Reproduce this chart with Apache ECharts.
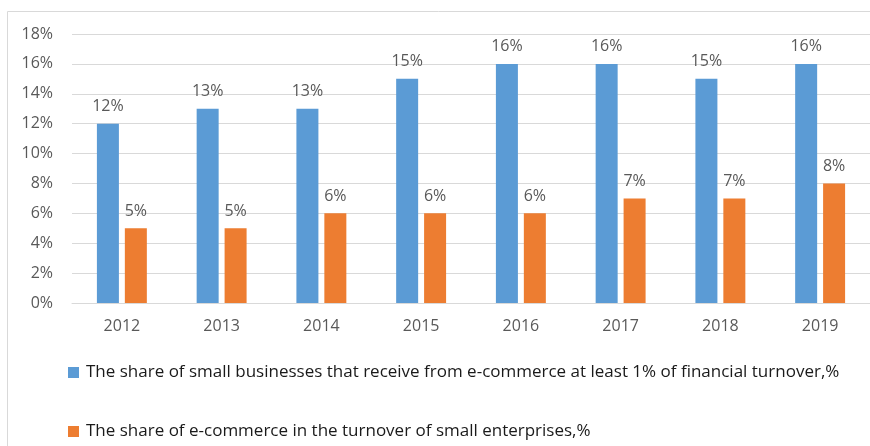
<!DOCTYPE html>
<html>
<head>
<meta charset="utf-8">
<script src="https://cdn.jsdelivr.net/npm/echarts@6/dist/echarts.min.js"></script>
<style>
  html, body { margin: 0; padding: 0; background: #fff; }
  #chart { width: 870px; height: 446px; }
</style>
</head>
<body>
<div id="chart"></div>
<script>
  var years = ['2012', '2013', '2014', '2015', '2016', '2017', '2018', '2019'];
  var shareBusinesses = [12, 13, 13, 15, 16, 16, 15, 16];
  var shareTurnover = [5, 5, 6, 6, 6, 7, 7, 8];
  var nameBusinesses = 'The share of small businesses that receive from e-commerce at least 1% of financial turnover,%';
  var nameTurnover = 'The share of e-commerce in the turnover of small enterprises,%';

  var font = 'Open Sans, Noto Sans, sans-serif';
  var chart = echarts.init(document.getElementById('chart'));

  var labelStyle = {
    show: true,
    position: 'top',
    distance: 9,
    formatter: '{c}%',
    color: '#595959',
    fontSize: 16,
    fontFamily: font
  };

  var legendText = { color: '#1a1a1a', fontSize: 17, fontFamily: font, padding: [0, 0, 0, 2] };

  chart.setOption({
    animation: false,
    graphic: [
      {
        type: 'polyline',
        shape: { points: [[7.5, 446], [7.5, 11.5], [870, 11.5]] },
        style: { stroke: '#d9d9d9', lineWidth: 1, fill: null },
        silent: true
      }
    ],
    grid: { left: 72, right: -1, top: 34, bottom: 143 },
    legend: [
      {
        data: [nameBusinesses],
        left: 63, top: 359,
        itemWidth: 11, itemHeight: 11,
        icon: 'rect',
        textStyle: legendText
      },
      {
        data: [nameTurnover],
        left: 63, top: 418,
        itemWidth: 11, itemHeight: 11,
        icon: 'rect',
        textStyle: legendText
      }
    ],
    xAxis: {
      type: 'category',
      data: years,
      axisLine: { show: true, lineStyle: { color: '#d9d9d9' } },
      axisTick: { show: false },
      axisLabel: { color: '#595959', fontSize: 16, fontFamily: font, margin: 15 }
    },
    yAxis: {
      type: 'value',
      min: 0, max: 18, interval: 2,
      axisLine: { show: false },
      axisTick: { show: false },
      axisLabel: { formatter: '{value}%', color: '#595959', fontSize: 16, fontFamily: font, margin: 19 },
      splitLine: { lineStyle: { color: '#d9d9d9', width: 1 } }
    },
    series: [
      {
        name: nameBusinesses,
        type: 'bar',
        data: shareBusinesses,
        barWidth: 22,
        barGap: '27%',
        itemStyle: { color: '#5b9bd5' },
        label: labelStyle
      },
      {
        name: nameTurnover,
        type: 'bar',
        data: shareTurnover,
        barWidth: 22,
        itemStyle: { color: '#ed7d31' },
        label: labelStyle
      }
    ]
  });
</script>
</body>
</html>
